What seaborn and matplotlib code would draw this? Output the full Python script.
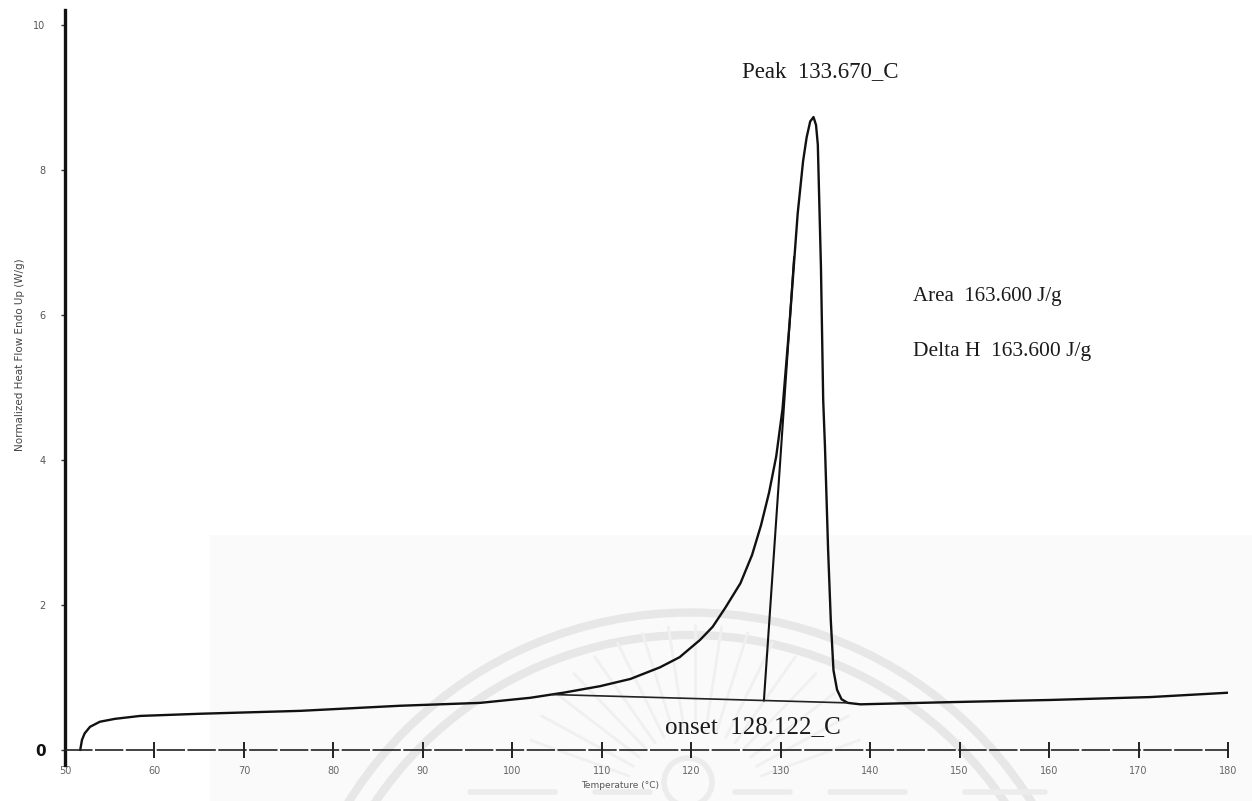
import numpy as np
import pandas as pd
import matplotlib
matplotlib.use("Agg")
import matplotlib.pyplot as plt
import seaborn as sns
from matplotlib.patches import Arc, Circle, Rectangle

# DSC heating trace: temperature (°C) and normalized heat flow (W/g)
temperature = [51.7, 51.9, 52.2, 52.8, 53.9, 55.6, 58.4, 65.1, 76.3, 87.4,
               96.4, 102.0, 105.7, 109.8, 113.2, 116.5, 118.7, 121.0, 122.4,
               123.8, 125.5, 126.8, 127.8, 128.7, 129.5, 130.2, 131.0, 131.9,
               132.5, 132.9, 133.3, 133.67, 133.95, 134.15, 134.5, 134.75,
               134.95, 135.3, 135.6, 135.9, 136.3, 136.8, 137.5, 138.9, 148.9,
               160.1, 171.3, 180.0]
heat_flow = [0.00, 0.14, 0.23, 0.32, 0.39, 0.43, 0.47, 0.50, 0.54, 0.61,
             0.65, 0.72, 0.79, 0.88, 0.98, 1.14, 1.28, 1.52, 1.70,
             1.96, 2.30, 2.69, 3.10, 3.55, 4.05, 4.70, 5.90, 7.40,
             8.12, 8.45, 8.67, 8.73, 8.62, 8.35, 6.66, 4.83,
             4.18, 2.76, 1.79, 1.10, 0.83, 0.70, 0.65, 0.63, 0.66,
             0.69, 0.73, 0.79]

# Onset tangent and peak integration baseline
onset_temp = 128.122
peak_temp = 133.670
tangent_temp = [onset_temp, 131.5]
tangent_flow = [0.68, 6.80]
baseline_temp = [104.5, 137.5]
baseline_flow = [0.765, 0.65]

x_ticks = [50, 60, 70, 80, 90, 100, 110, 120, 130, 140, 150, 160, 170, 180]
y_ticks = [0, 2, 4, 6, 8, 10]

peak_label = "Peak  133.670_C"
onset_label = "onset  128.122_C"
area_label = "Area  163.600 J/g"
delta_label = "Delta H  163.600 J/g"

sns.set_theme(style="white")
plt.rcParams["font.family"] = ["DejaVu Sans"]

W, H = 1252, 801
fig = plt.figure(figsize=(W / 100, H / 100), dpi=100)
fig.patch.set_facecolor("white")

# Paper background with the faint emblem printed underneath
bg = fig.add_axes([0, 0, 1, 1], zorder=0)
bg.set_xlim(0, W)
bg.set_ylim(H, 0)
bg.axis("off")
bg.add_patch(Rectangle((210, 535), W - 210, H - 535, color="#fafafa", lw=0))
wm = "#e7e7e7"
bg.add_patch(Arc((690, 1015), 805, 805, theta1=180, theta2=360, color=wm, lw=6))
bg.add_patch(Arc((690, 1015), 760, 760, theta1=180, theta2=360, color=wm, lw=6))
for ang in np.linspace(200, 340, 17):
    a = np.deg2rad(ang)
    r0, r1 = 70, 175
    bg.plot([695 + r0 * np.cos(a), 695 + r1 * np.cos(a)],
            [800 + r0 * np.sin(a), 800 + r1 * np.sin(a)],
            color="#f0f0f0", lw=2.0, solid_capstyle="round")
bg.add_patch(Circle((688, 782), 24, fill=False, ec="#ececec", lw=4))
for x0, x1 in [(470, 555), (595, 650), (735, 790), (830, 905), (965, 1045)]:
    bg.plot([x0, x1], [792, 792], color="#ececec", lw=4)

# Main plot area
ax = fig.add_axes([65 / W, (H - 764.5) / H, (1228 - 65) / W, 754 / H], zorder=1)
ax.patch.set_alpha(0)

sns.lineplot(x=temperature, y=heat_flow, sort=False, estimator=None,
             color="#111111", linewidth=1.7, ax=ax)
sns.lineplot(x=tangent_temp, y=tangent_flow, sort=False, estimator=None,
             color="#111111", linewidth=1.5, ax=ax)
sns.lineplot(x=baseline_temp, y=baseline_flow, sort=False, estimator=None,
             color="#222222", linewidth=1.2, ax=ax)

ax.set_xlim(50, 180)
ax.set_ylim(-0.2, 10.2)

for side in ("top", "right"):
    ax.spines[side].set_visible(False)
ax.spines["left"].set_color("#111111")
ax.spines["left"].set_linewidth(2.4)
ax.spines["bottom"].set_position(("data", 0))
ax.spines["bottom"].set_color("#222222")
ax.spines["bottom"].set_linewidth(1.2)
ax.spines["bottom"].set_linestyle((0, (16, 2.5)))

ax.set_xticks(x_ticks)
ax.set_xticklabels([str(t) for t in x_ticks])
ax.tick_params(axis="x", direction="inout", length=11, width=1.4,
               color="#222222", labelsize=7, labelcolor="#666666", pad=6,
               bottom=True)
ax.set_yticks(y_ticks)
ax.set_yticklabels([str(t) for t in y_ticks])
ax.tick_params(axis="y", direction="out", length=3, width=1, color="#333333",
               labelsize=7, labelcolor="#555555", pad=11, left=True)
zero_lbl = ax.get_yticklabels()[0]
zero_lbl.set_fontsize(11)
zero_lbl.set_fontweight("bold")
zero_lbl.set_color("#111111")

ax.set_xlabel("")
ax.set_ylabel("")
fig.text(620 / W, 1 - 786 / H, "Temperature (°C)", fontsize=6.5,
         color="#555555", ha="center", va="center")
fig.text(20 / W, 1 - 355 / H, "Normalized Heat Flow Endo Up (W/g)",
         fontsize=7.5, color="#444444", rotation=90, ha="center", va="center")

serif = ["Liberation Serif", "DejaVu Serif"]
ax.text(134.4, 9.36, peak_label, family=serif, fontsize=16.5,
        color="#1a1a1a", ha="center", va="center")
ax.text(144.8, 6.25, area_label, family=serif, fontsize=15,
        color="#1a1a1a", ha="left", va="center")
ax.text(144.8, 5.49, delta_label, family=serif, fontsize=15.5,
        color="#1a1a1a", ha="left", va="center")
ax.text(117.07, 0.32, onset_label, family=serif, fontsize=18,
        color="#1a1a1a", ha="left", va="center")

fig.savefig("out.png", dpi=100, facecolor="white")
